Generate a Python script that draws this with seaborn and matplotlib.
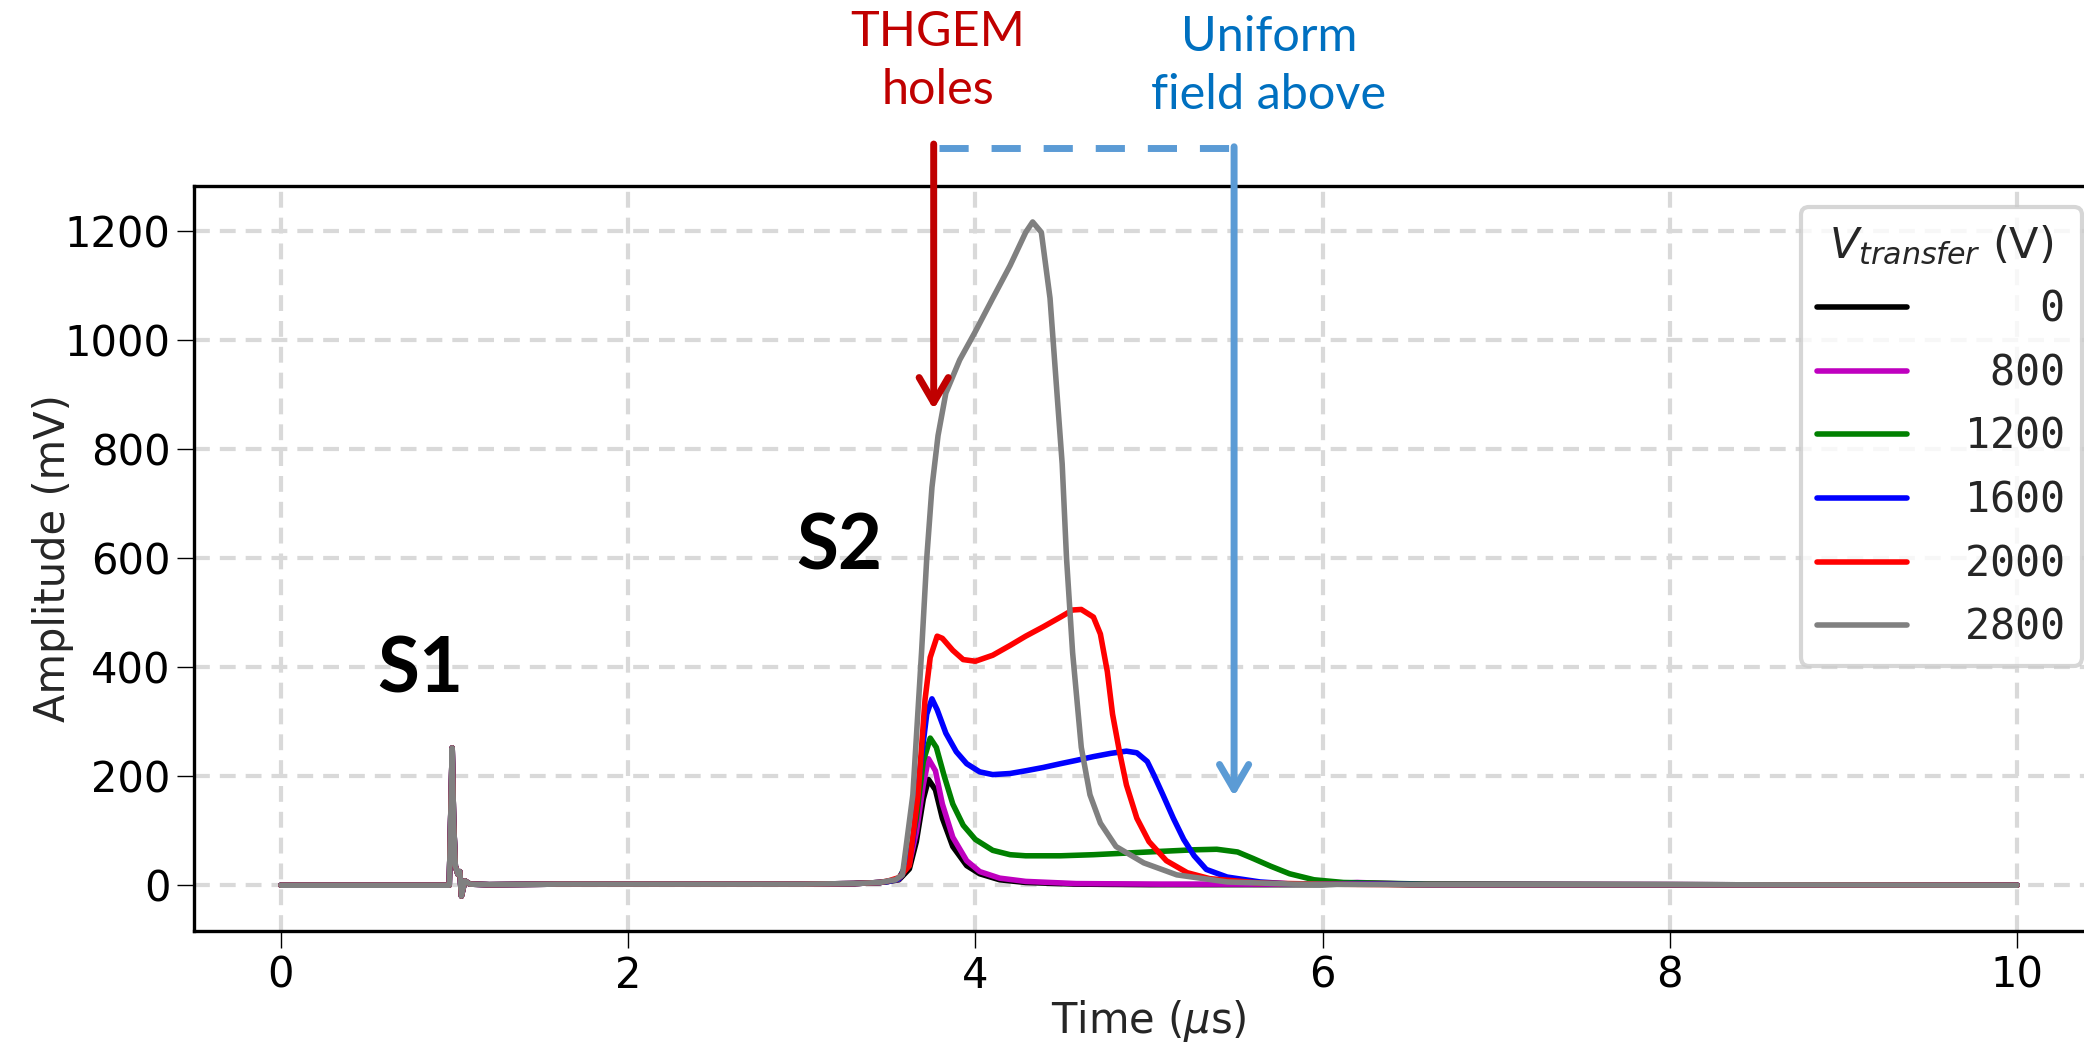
import numpy as np
import pandas as pd
import matplotlib
matplotlib.use("Agg")
import matplotlib.pyplot as plt
import seaborn as sns

# ---------------- data ----------------
# shared part: baseline + S1 spike (all traces coincide)
head_t = [0.0, 0.5, 0.97, 0.987, 0.995, 1.005, 1.02, 1.031, 1.04, 1.06, 1.09, 1.2, 1.6, 2.0, 2.5, 3.0, 3.3, 3.45]
head_v = [0, 0, 0, 252, 120, 35, 20, 25, -20, 8, 2, 1, 2, 2, 2, 2, 3, 5]

black_t = [3.5, 3.56, 3.62, 3.66, 3.70, 3.73, 3.77, 3.81, 3.87, 3.95, 4.025, 4.14, 4.29, 4.58, 5.0, 6.0, 6.2, 6.5, 8, 10]
black_v = [7, 10, 30, 80, 158, 194, 175, 123, 71, 36, 21, 10, 5, 2, 1, 1, 3, 1, 1, 0]

magenta_t = [3.5, 3.56, 3.62, 3.66, 3.70, 3.73, 3.77, 3.81, 3.87, 3.95, 4.025, 4.14, 4.29, 4.58, 5.06, 6.0, 6.2, 6.5, 8, 10]
magenta_v = [7, 11, 40, 97, 184, 232, 210, 149, 88, 45, 25, 13, 7, 3, 2, 2, 5, 2, 1, 0]

green_t = [3.5, 3.56, 3.62, 3.66, 3.70, 3.74, 3.775, 3.82, 3.87, 3.93, 4.0, 4.1, 4.2, 4.29, 4.49, 4.68, 4.87,
           5.06, 5.26, 5.39, 5.51, 5.6, 5.7, 5.81, 5.95, 6.12, 6.3, 6.6, 8, 10]
green_v = [7, 12, 50, 123, 227, 270, 253, 201, 149, 110, 84, 64, 56, 54, 54, 56, 59,
           62, 65, 66, 61, 49, 35, 21, 10, 5, 4, 2, 1, 0]

blue_t = [3.5, 3.56, 3.61, 3.64, 3.68, 3.72, 3.75, 3.78, 3.83, 3.89, 3.95, 4.025, 4.1, 4.2, 4.29, 4.39, 4.49,
          4.58, 4.68, 4.78, 4.87, 4.93, 4.99, 5.03, 5.08, 5.14, 5.2, 5.26, 5.33, 5.45, 5.64, 5.83, 6.2, 6.6, 8, 10]
blue_v = [7, 12, 40, 80, 210, 314, 342, 322, 279, 245, 223, 208, 203, 205, 210, 216, 223,
          229, 236, 242, 246, 243, 227, 201, 166, 123, 84, 54, 29, 15, 6, 2, 3, 1, 1, 0]

red_t = [3.5, 3.56, 3.62, 3.67, 3.71, 3.74, 3.78, 3.81, 3.87, 3.93, 4.0, 4.1, 4.2, 4.29, 4.39, 4.49, 4.56,
         4.61, 4.68, 4.72, 4.76, 4.79, 4.83, 4.87, 4.93, 5.0, 5.1, 5.22, 5.35, 5.64, 6.0, 6.5, 8, 10]
red_v = [8, 14, 36, 166, 340, 418, 457, 453, 431, 414, 411, 422, 440, 457, 474, 492, 505,
         506, 492, 461, 392, 314, 245, 184, 123, 80, 45, 23, 12, 4, 2, 1, 1, 0]

gray_t = [3.5, 3.54, 3.58, 3.64, 3.69, 3.72, 3.75, 3.785, 3.83, 3.91, 4.0, 4.1, 4.2, 4.29, 4.33, 4.38, 4.43,
          4.47, 4.5, 4.525, 4.56, 4.61, 4.66, 4.72, 4.81, 4.97, 5.16, 5.45, 5.83, 6.5, 8, 10]
gray_v = [8, 10, 19, 166, 427, 600, 730, 825, 903, 964, 1016, 1077, 1137, 1198, 1217, 1198, 1077,
          903, 773, 600, 427, 253, 166, 114, 71, 41, 19, 6, 2, 1, 1, 0]

voltages = [0, 800, 1200, 1600, 2000, 2800]
colors = ["black", "#bf00bf", "green", "blue", "red", "gray"]
series_t = [black_t, magenta_t, green_t, blue_t, red_t, gray_t]
series_v = [black_v, magenta_v, green_v, blue_v, red_v, gray_v]

# ---------------- figure ----------------
sns.set_theme(style="white")
plt.rcParams["font.family"] = ["DejaVu Sans"]
plt.rcParams["mathtext.fontset"] = "dejavusans"

W, H = 2084, 1045
fig = plt.figure(figsize=(W / 100, H / 100), dpi=100)
ax = fig.add_axes([194 / W, 1 - 931 / H, (2104 - 194) / W, (931 - 186) / H])

for volt, col, tt, vv in zip(voltages, colors, series_t, series_v):
    df = pd.DataFrame({"t": head_t + tt, "v": head_v + vv})
    sns.lineplot(data=df, x="t", y="v", ax=ax, color=col, linewidth=4.0,
                 estimator=None, sort=False, label=f"{volt:5d}")

ax.set_xlim(-0.5, 10.5)
ax.set_ylim(-84, 1283)
ax.set_xticks([0, 2, 4, 6, 8, 10])
ax.set_yticks([0, 200, 400, 600, 800, 1000, 1200])

ax.grid(True, color="#d9d9d9", linewidth=3, linestyle=(0, (3.8, 2.4)))
ax.set_axisbelow(True)
for s in ax.spines.values():
    s.set_linewidth(2.4)
    s.set_color("black")

ax.tick_params(axis="both", labelsize=30, length=12, width=1, direction="out",
               pad=5, colors="black", bottom=True, left=True)
ax.set_xlabel(r"Time ($\mu$s)", fontsize=30)
ax.set_ylabel("Amplitude (mV)", fontsize=30)
ax.xaxis.set_label_coords(0.5, -0.09)
ax.yaxis.set_label_coords(-0.063, 0.5)

handles, labels = ax.get_legend_handles_labels()
leg = ax.legend(handles, labels, title=r"$V_{transfer}$ (V)",
                loc="upper right", bbox_to_anchor=(2082 / W, 1 - 207 / H),
                bbox_transform=fig.transFigure, borderaxespad=0,
                prop={"family": "DejaVu Sans Mono", "size": 30},
                title_fontsize=31, handlelength=2.15, handletextpad=0.8,
                labelspacing=0.52, frameon=True, fancybox=True, framealpha=0.8,
                borderpad=0.4)
leg.get_frame().set_edgecolor("#cccccc")
leg.get_frame().set_linewidth(3)
for h in leg.legend_handles:
    h.set_linewidth(4)

# ---------------- annotations ----------------
red_c = "#C00000"
blue_c = "#0070C0"
lblue = "#5B9BD5"

ax.annotate("", xy=(3.76, 873), xytext=(3.76, 1360),
            arrowprops=dict(arrowstyle="->,head_length=0.6,head_width=0.35",
                            lw=5, color=red_c, mutation_scale=30, shrinkA=0, shrinkB=0),
            annotation_clip=False)
ax.plot([3.79, 5.49], [1352, 1352], color=lblue, lw=5,
        linestyle=(0, (4.2, 3.3)), clip_on=False, solid_capstyle="butt")
ax.annotate("", xy=(5.49, 163), xytext=(5.49, 1355),
            arrowprops=dict(arrowstyle="->,head_length=0.6,head_width=0.35",
                            lw=5, color=lblue, mutation_scale=30, shrinkA=0, shrinkB=0),
            annotation_clip=False)

fig.text(938 / W, 1 - 61 / H, "THGEM\nholes", color=red_c, fontsize=35,
         family="Lato", ha="center", va="center", linespacing=1.38)
fig.text(1269 / W, 1 - 66 / H, "Uniform\nfield above", color=blue_c, fontsize=35,
         family="Lato", ha="center", va="center", linespacing=1.38)

ax.text(0.806, 394, "S1", fontsize=55, fontweight="bold", family="Lato",
        ha="center", va="center", color="black")
ax.text(3.214, 619, "S2", fontsize=55, fontweight="bold", family="Lato",
        ha="center", va="center", color="black")

fig.savefig("out.png", dpi=100)
